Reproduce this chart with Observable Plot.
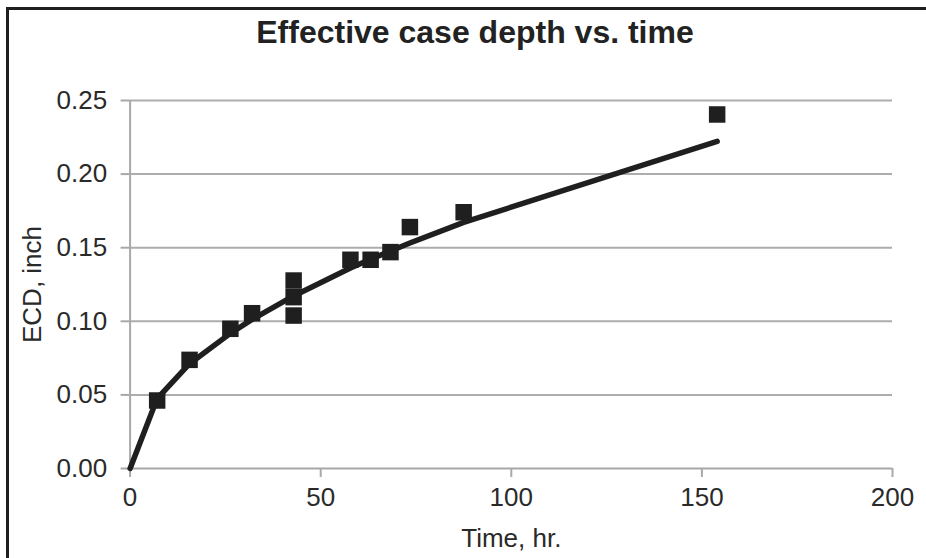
<!DOCTYPE html>
<html>
<head>
<meta charset="utf-8">
<script src="https://cdn.jsdelivr.net/npm/d3@7"></script>
<script src="https://cdn.jsdelivr.net/npm/@observablehq/plot@0.6"></script>
<style>
  html, body { margin: 0; padding: 0; background: #fff; overflow: hidden; }
  #page { position: relative; width: 926px; height: 558px; overflow: hidden; background: #fff; font-family: "Liberation Sans", Arial, sans-serif; }
  #frameTop { position: absolute; left: 6px; top: 7px; width: 920px; height: 3px; background: #1f1f1f; }
  #frameLeft { position: absolute; left: 6px; top: 7px; width: 3px; height: 551px; background: #1f1f1f; }
  #title { position: absolute; left: 0; top: 14px; width: 950px; text-align: center; font-weight: bold; font-size: 32px; color: #222; line-height: 36px; }
  #chart { position: absolute; left: 0; top: 60px; }
</style>
</head>
<body>
<div id="page">
  <div id="frameTop"></div>
  <div id="frameLeft"></div>
  <div id="title">Effective case depth vs. time</div>
  <div id="chart"></div>
</div>
<script>
// Measured points (time in hours, effective case depth in inches)
const timeHr = [7.1, 15.6, 26.3, 32.0, 42.9, 42.9, 42.9, 57.8, 63.1, 68.3, 73.4, 87.5, 154.0];
const ecdIn  = [0.0462, 0.0738, 0.0949, 0.1055, 0.1277, 0.1164, 0.1039, 0.1418, 0.1418, 0.1470, 0.1640, 0.1741, 0.2405];

// Fitted curve as drawn
const fitTime = [0, 7.1, 15.6, 26.3, 32.0, 42.9, 57.8, 63.1, 68.3, 73.4, 87.5, 154.0];
const fitEcd  = [0, 0.0475, 0.0712, 0.0918, 0.1012, 0.1172, 0.1362, 0.1422, 0.1478, 0.1532, 0.1672, 0.2222];

const xTicks = [0, 50, 100, 150, 200];
const yTicks = [0, 0.05, 0.10, 0.15, 0.20, 0.25];
const yGrid  = [0.05, 0.10, 0.15, 0.20, 0.25];

const points = timeHr.map((t, i) => ({t, e: ecdIn[i]}));
const fit = fitTime.map((t, i) => ({t, e: fitEcd[i]}));

const chart = Plot.plot({
  width: 926,
  height: 498,
  marginLeft: 129.6,
  marginRight: 34,
  marginTop: 40,
  marginBottom: 90,
  style: { fontFamily: "Liberation Sans, Arial, sans-serif", fontSize: "26px", color: "#2a2a2a", background: "transparent", overflow: "visible" },
  x: { domain: [0, 200] },
  y: { domain: [0, 0.25] },
  marks: [
    Plot.gridY(yGrid, { stroke: "#adadad", strokeOpacity: 1, strokeWidth: 2 }),
    Plot.ruleY([0], { stroke: "#a8a8a8", strokeWidth: 2 }),
    Plot.ruleX([0], { stroke: "#a8a8a8", strokeWidth: 2 }),
    Plot.axisY({ ticks: yTicks, tickFormat: d3.format(".2f"), tickSize: 9, tickPadding: 14, stroke: "#a8a8a8", strokeWidth: 2, strokeOpacity: 1,
                 label: "ECD, inch", labelAnchor: "center", labelArrow: "none", labelOffset: 108, fontSize: 26 }),
    Plot.axisX({ ticks: xTicks, tickSize: 9, tickPadding: 10, stroke: "#a8a8a8", strokeWidth: 2, strokeOpacity: 1,
                 label: "Time, hr.", labelAnchor: "center", labelArrow: "none", labelOffset: 78, fontSize: 26 }),
    Plot.line(fit, { x: "t", y: "e", stroke: "#1f1f1f", strokeWidth: 5.5, strokeLinecap: "round", strokeLinejoin: "round" }),
    Plot.dot(points, { x: "t", y: "e", symbol: "square", r: 9.3, fill: "#1f1f1f", stroke: "none" })
  ]
});
document.getElementById("chart").appendChild(chart);
</script>
</body>
</html>
